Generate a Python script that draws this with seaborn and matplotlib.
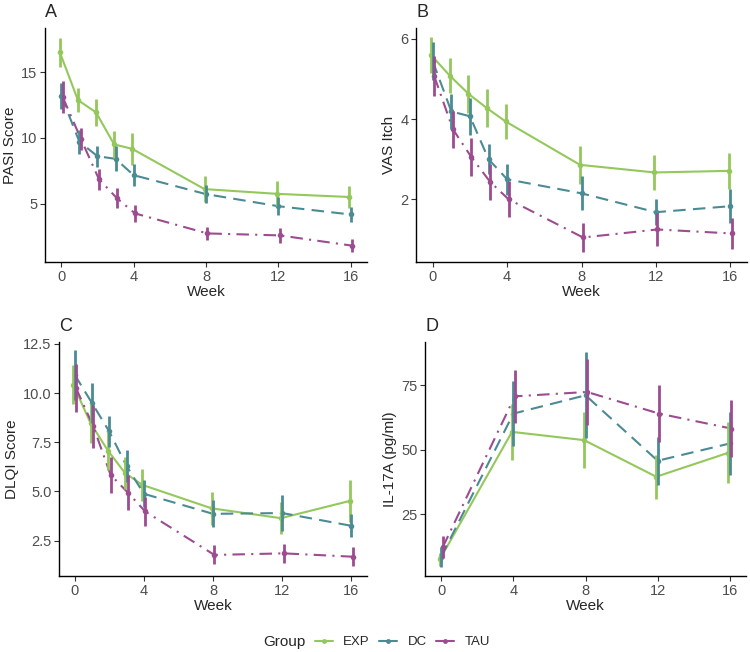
import numpy as np
import pandas as pd
import seaborn as sns
import matplotlib.pyplot as plt
from matplotlib.lines import Line2D

# ---- data ----
groups = ["EXP", "DC", "TAU"]
weeks_full = [0, 1, 2, 3, 4, 8, 12, 16]
weeks_il = [0, 4, 8, 12, 16]

pasi_mean = {
    "EXP": [16.5, 12.87, 11.93, 9.5, 9.16, 6.1, 5.74, 5.5],
    "DC": [13.2, 9.7, 8.6, 8.4, 7.16, 5.72, 4.8, 4.17],
    "TAU": [13.1, 9.93, 6.86, 5.4, 4.25, 2.73, 2.58, 1.8],
}
pasi_err = {
    "EXP": [1.1, 0.9, 1.0, 1.0, 1.2, 1.0, 0.95, 0.8],
    "DC": [1.0, 0.9, 0.8, 0.95, 0.85, 0.7, 0.7, 0.55],
    "TAU": [1.2, 0.85, 0.8, 0.75, 0.65, 0.5, 0.55, 0.5],
}
vas_mean = {
    "EXP": [5.59, 5.08, 4.63, 4.27, 3.94, 2.86, 2.67, 2.71],
    "DC": [5.44, 4.19, 4.07, 3.0, 2.5, 2.15, 1.68, 1.83],
    "TAU": [5.07, 3.75, 3.05, 2.44, 2.0, 1.05, 1.25, 1.15],
}
vas_err = {
    "EXP": [0.45, 0.44, 0.48, 0.47, 0.44, 0.48, 0.43, 0.44],
    "DC": [0.47, 0.44, 0.46, 0.38, 0.38, 0.42, 0.33, 0.42],
    "TAU": [0.5, 0.46, 0.47, 0.45, 0.45, 0.36, 0.42, 0.38],
}
dlqi_mean = {
    "EXP": [10.43, 8.48, 7.08, 5.93, 5.33, 4.14, 3.64, 4.52],
    "DC": [10.94, 9.5, 8.05, 6.3, 4.88, 3.86, 3.9, 3.25],
    "TAU": [10.26, 8.31, 5.84, 4.94, 3.98, 1.77, 1.85, 1.68],
}
dlqi_err = {
    "EXP": [1.0, 1.0, 1.0, 0.8, 0.8, 0.85, 0.8, 1.08],
    "DC": [1.27, 1.0, 0.8, 0.8, 0.68, 0.68, 0.93, 0.58],
    "TAU": [1.2, 1.08, 0.9, 0.87, 0.76, 0.48, 0.5, 0.47],
}
il17_mean = {
    "EXP": [7.4, 56.9, 53.7, 39.5, 48.8],
    "DC": [8.5, 64.0, 71.1, 45.7, 52.4],
    "TAU": [12.1, 70.7, 72.4, 64.0, 58.2],
}
il17_err = {
    "EXP": [2.5, 11.0, 11.0, 8.6, 11.8],
    "DC": [3.9, 12.5, 16.7, 9.4, 12.3],
    "TAU": [4.2, 10.3, 12.9, 11.0, 11.0],
}

palette = {"EXP": "#94C85C", "DC": "#4B8B94", "TAU": "#9C4C8F"}
dashes = {"EXP": "", "DC": (6, 3.5), "TAU": (6, 3, 1, 3)}
dodge = {"EXP": -0.08, "DC": 0.0, "TAU": 0.08}


def long_frame(weeks, means, errs):
    rows = []
    for g in groups:
        for w, m, e in zip(weeks, means[g], errs[g]):
            rows.append({"Group": g, "Week": w, "x": w + dodge[g],
                         "mean": m, "lo": m - e, "hi": m + e})
    return pd.DataFrame(rows)


sns.set_theme(style="ticks")
plt.rcParams["font.family"] = ["Liberation Sans", "DejaVu Sans"]

fig = plt.figure(figsize=(7.5, 6.52), dpi=100)

panels = [
    ("A", "PASI Score", weeks_full, pasi_mean, pasi_err, [5, 10, 15], ["5", "10", "15"],
     (0.56, 18.35), [0.060, 0.5982, 0.4293, 0.3589]),
    ("B", "VAS Itch", weeks_full, vas_mean, vas_err, [2, 4, 6], ["2", "4", "6"],
     (0.44, 6.27), [0.5547, 0.5982, 0.4413, 0.3589]),
    ("C", "DLQI Score", weeks_full, dlqi_mean, dlqi_err, [2.5, 5, 7.5, 10, 12.5],
     ["2.5", "5.0", "7.5", "10.0", "12.5"], (0.7, 12.6), [0.0787, 0.1166, 0.4107, 0.3589]),
    ("D", "IL-17A (pg/ml)", weeks_il, il17_mean, il17_err, [25, 50, 75], ["25", "50", "75"],
     (0.97, 91.8), [0.5667, 0.1166, 0.428, 0.3589]),
]

for letter, ylabel, weeks, means, errs, yt, ytl, ylim, pos in panels:
    ax = fig.add_axes(pos)
    df = long_frame(weeks, means, errs)
    sns.lineplot(data=df, x="x", y="mean", hue="Group", style="Group",
                 hue_order=groups, style_order=groups, palette=palette,
                 dashes=dashes, markers={g: "o" for g in groups},
                 markersize=4, markeredgewidth=0, linewidth=1.5,
                 legend=False, ax=ax)
    for g in groups:
        sub = df[df["Group"] == g]
        ax.vlines(sub["x"], sub["lo"], sub["hi"], colors=palette[g], linewidth=2.0)
    ax.set_xlim(-0.9, 16.9)
    ax.set_ylim(*ylim)
    ax.set_xticks([0, 4, 8, 12, 16])
    ax.set_yticks(yt)
    ax.set_yticklabels(ytl)
    ax.set_xlabel("Week", fontsize=11, labelpad=1)
    ax.set_ylabel(ylabel, fontsize=11, labelpad=3)
    ax.tick_params(labelsize=10.5, labelcolor="#4D4D4D", color="#333333",
                   length=3.5, width=0.8, pad=2)
    for s in ["left", "bottom"]:
        ax.spines[s].set_linewidth(1.0)
        ax.spines[s].set_color("black")
    sns.despine(ax=ax)
    ax.text(0.0, 1.03, letter, transform=ax.transAxes, fontsize=13,
            ha="left", va="bottom")

handles = [Line2D([], [], color=palette[g], lw=1.5, marker="o", markersize=3.5,
                  markeredgewidth=0) for g in groups]
fig.text(263 / 750, 1 - 642 / 652, "Group", fontsize=11, ha="left", va="center")
fig.legend(handles, groups, loc="center left", bbox_to_anchor=(315 / 750, 1 - 642 / 652),
           ncol=3, frameon=False, fontsize=9.5, handlelength=1.35, handletextpad=0.8,
           columnspacing=0.7, borderaxespad=0, borderpad=0)

fig.savefig("out.png", dpi=100)
